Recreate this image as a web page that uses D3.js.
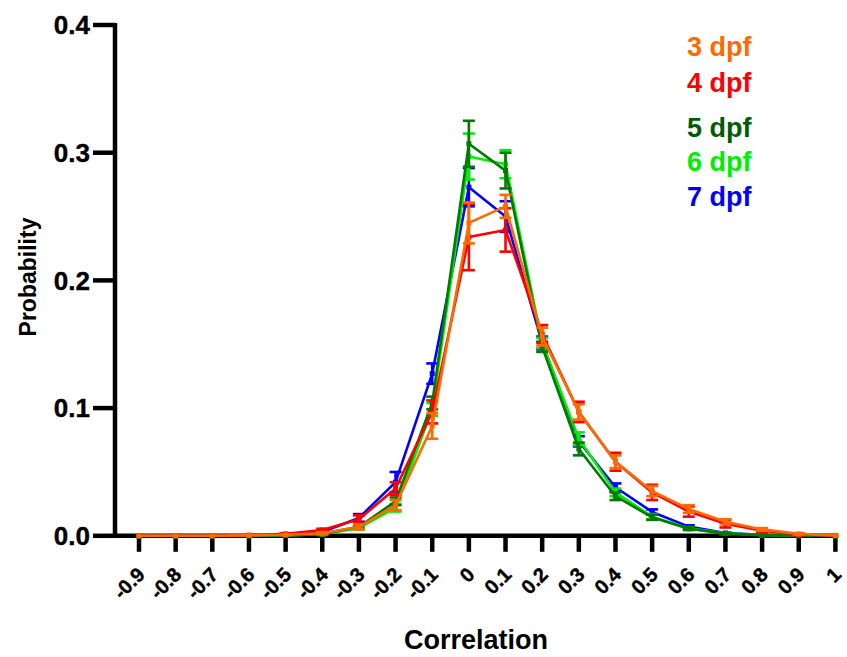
<!DOCTYPE html>
<html><head><meta charset="utf-8">
<script src="https://cdn.jsdelivr.net/npm/d3@7"></script>
<style>
html,body{margin:0;padding:0;background:#fff;}
text{font-family:"Liberation Sans",Arial,sans-serif;font-weight:bold;}
</style></head>
<body><svg id="c" width="847" height="657"></svg>
<script>
const correlation = [-0.9,-0.8,-0.7,-0.6,-0.5,-0.4,-0.3,-0.2,-0.1,0,0.1,0.2,0.3,0.4,0.5,0.6,0.7,0.8,0.9,1];
const xTickLabels = ["-0.9","-0.8","-0.7","-0.6","-0.5","-0.4","-0.3","-0.2","-0.1","0","0.1","0.2","0.3","0.4","0.5","0.6","0.7","0.8","0.9","1"];
const yTicks = [0,0.1,0.2,0.3,0.4];
const seriesNames = ["3 dpf","4 dpf","5 dpf","6 dpf","7 dpf"];

const dpf3 = [0,0,0,0.0003,0.0008,0.002,0.007,0.024,0.086,0.245,0.258,0.156,0.097,0.058,0.035,0.021,0.011,0.005,0.0015,0.0003];
const dpf4 = [0,0,0,0.0005,0.0015,0.0045,0.013,0.037,0.097,0.234,0.2395,0.158,0.097,0.058,0.034,0.019,0.0095,0.004,0.001,0.0003];
const dpf5 = [0,0,0,0,0.0003,0.0015,0.007,0.027,0.104,0.307,0.286,0.148,0.068,0.031,0.0145,0.0055,0.0017,0.0005,0.0001,0];
const dpf6 = [0,0,0,0,0.0003,0.0012,0.006,0.022,0.099,0.297,0.291,0.151,0.076,0.034,0.015,0.0058,0.002,0.0006,0.0001,0];
const dpf7 = [0,0,0,0.0002,0.0008,0.003,0.014,0.042,0.127,0.273,0.250,0.151,0.074,0.038,0.0187,0.0072,0.0022,0.0007,0.0001,0];

const err3 = [0,0,0,0,0.0003,0.0008,0.002,0.004,0.010,0.016,0.009,0.007,0.006,0.005,0.004,0.003,0.002,0.001,0.0005,0];
const err4 = [0,0,0,0,0.0005,0.001,0.003,0.005,0.009,0.026,0.017,0.007,0.008,0.007,0.006,0.004,0.003,0.0015,0.0005,0];
const err5 = [0,0,0,0,0,0.0005,0.0015,0.003,0.005,0.018,0.014,0.004,0.005,0.003,0.002,0.001,0.0005,0,0,0];
const err6 = [0,0,0,0,0,0.0005,0.001,0.003,0.005,0.018,0.011,0.004,0.005,0.003,0.002,0.001,0.0005,0,0,0];
const err7 = [0,0,0,0,0.0003,0.001,0.003,0.008,0.008,0.015,0.012,0.005,0.004,0.003,0.002,0.001,0.0005,0,0,0];

const colors = {"3 dpf":"#ff6a00","4 dpf":"#ff0000","5 dpf":"#007a00","6 dpf":"#00ee00","7 dpf":"#0000ff"};
const legendColors = {"3 dpf":"#ff6a00","4 dpf":"#ff0000","5 dpf":"#005c00","6 dpf":"#00ee00","7 dpf":"#0000ff"};

const series = [
  {name:"7 dpf", values:dpf7, err:err7},
  {name:"6 dpf", values:dpf6, err:err6},
  {name:"5 dpf", values:dpf5, err:err5},
  {name:"4 dpf", values:dpf4, err:err4},
  {name:"3 dpf", values:dpf3, err:err3}
];

const svg = d3.select("#c");
const x = d3.scaleLinear().domain([-0.9,1]).range([139,835.4]);
const y = d3.scaleLinear().domain([0,0.4]).range([535.8,25]);
const axisX = 115;

// Y axis
const gy = svg.append("g");
gy.append("line").attr("x1",axisX).attr("x2",axisX).attr("y1",y(0.4)-2).attr("y2",y(0)+2)
  .attr("stroke","#000").attr("stroke-width",4.5);
gy.selectAll("line.t").data(yTicks).join("line").attr("class","t")
  .attr("x1",axisX-22).attr("x2",axisX).attr("y1",d=>y(d)).attr("y2",d=>y(d))
  .attr("stroke","#000").attr("stroke-width",4.5);
gy.selectAll("text").data(yTicks).join("text")
  .attr("x",axisX-25).attr("y",d=>y(d)).attr("dy","0.36em")
  .attr("text-anchor","end").attr("font-size",26)
  .attr("stroke","#000").attr("stroke-width",0.4).text(d3.format(".1f"));

// X axis
const gx = svg.append("g");
gx.append("line").attr("x1",axisX-2).attr("x2",x(1)+3).attr("y1",y(0)).attr("y2",y(0))
  .attr("stroke","#000").attr("stroke-width",4.5);
gx.selectAll("line.t").data(correlation).join("line").attr("class","t")
  .attr("x1",d=>x(d)).attr("x2",d=>x(d)).attr("y1",y(0)).attr("y2",y(0)+16)
  .attr("stroke","#000").attr("stroke-width",4.5);
gx.selectAll("text").data(correlation).join("text")
  .attr("transform",d=>`translate(${x(d)+7},${y(0)+40}) rotate(-45)`)
  .attr("text-anchor","end").attr("font-size",20)
  .attr("stroke","#000").attr("stroke-width",0.4)
  .text((d,i)=>xTickLabels[i]);

// Titles
svg.append("text").attr("x",476).attr("y",649).attr("text-anchor","middle")
  .attr("font-size",27).text("Correlation");
svg.append("text").attr("transform","translate(36,277) rotate(-90)").attr("text-anchor","middle")
  .attr("font-size",23).text("Probability");

// Data
const line = d3.line().x(d=>x(d.x)).y(d=>y(d.v));
series.forEach(s=>{
  const pts = correlation.map((c,i)=>({x:c,v:s.values[i],e:s.err[i]}));
  const g = svg.append("g");
  const col = colors[s.name];
  g.append("path").datum(pts).attr("d",line).attr("fill","none")
    .attr("stroke",col).attr("stroke-width",2.6).attr("stroke-linejoin","round");
  const eb = g.selectAll("g.eb").data(pts.filter(p=>p.e>0)).join("g").attr("class","eb");
  eb.append("line").attr("x1",d=>x(d.x)).attr("x2",d=>x(d.x))
    .attr("y1",d=>y(d.v+d.e)).attr("y2",d=>y(d.v-d.e)).attr("stroke",col).attr("stroke-width",2.6);
  eb.append("line").attr("x1",d=>x(d.x)-6).attr("x2",d=>x(d.x)+6)
    .attr("y1",d=>y(d.v+d.e)).attr("y2",d=>y(d.v+d.e)).attr("stroke",col).attr("stroke-width",2.6);
  eb.append("line").attr("x1",d=>x(d.x)-6).attr("x2",d=>x(d.x)+6)
    .attr("y1",d=>y(d.v-d.e)).attr("y2",d=>y(d.v-d.e)).attr("stroke",col).attr("stroke-width",2.6);
  g.selectAll("rect").data(pts).join("rect")
    .attr("x",d=>x(d.x)-2.5).attr("y",d=>y(d.v)-2.5).attr("width",5).attr("height",5).attr("fill",col);
});

// Legend
const legendY = {"3 dpf":56,"4 dpf":92,"5 dpf":137,"6 dpf":171,"7 dpf":206};
svg.selectAll("text.leg").data(seriesNames).join("text").attr("class","leg")
  .attr("x",687).attr("y",d=>legendY[d]).attr("font-size",27)
  .attr("fill",d=>legendColors[d]).text(d=>d);
</script></body></html>
